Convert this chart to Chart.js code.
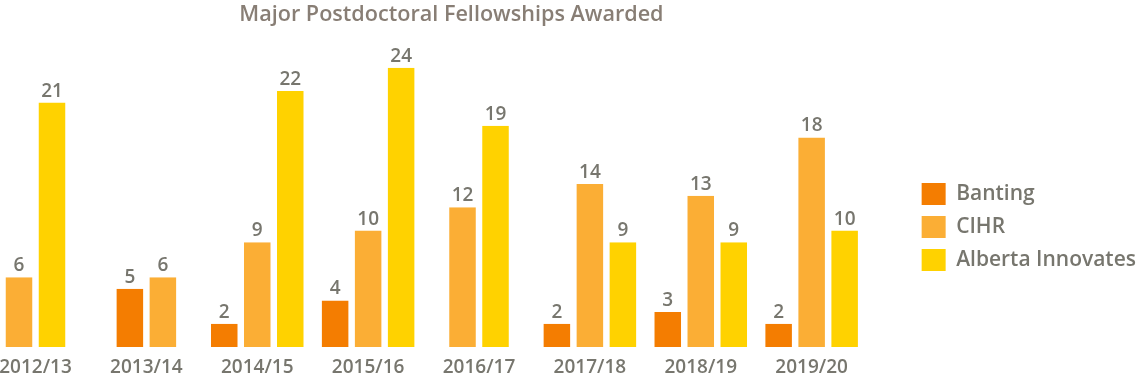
<!DOCTYPE html>
<html><head><meta charset="utf-8">
<script src="https://cdn.jsdelivr.net/npm/chart.js@4.4.1/dist/chart.umd.min.js"></script>
<style>html,body{margin:0;padding:0;background:#fff;overflow:hidden;}#wrap{width:1140px;height:378px;}</style>
</head><body><div id="wrap"><canvas id="c" width="1140" height="378"></canvas></div>
<script>
const categories = ['2012/13','2013/14','2014/15','2015/16','2016/17','2017/18','2018/19','2019/20'];
const banting = [null, 5, 2, 4, null, 2, 3, 2];
const cihr = [6, 6, 9, 10, 12, 14, 13, 18];
const albertaInnovates = [21, null, 22, 24, 19, 9, 9, 10];
const seriesNames = ['Banting', 'CIHR', 'Alberta Innovates'];
const titleText = 'Major Postdoctoral Fellowships Awarded';

const FONT = '"Open Sans", "Noto Sans", sans-serif';
const TEXT_GRAY = '#77766e';
const TITLE_GRAY = '#887e75';
const colors = ['#F47D01', '#FBAE35', '#FFD200'];

const barStyle = {
  barThickness: 33,
  borderWidth: {left: 3.25, right: 3.25, top: 0, bottom: 0},
  borderColor: 'rgba(255,255,255,0)',
  borderSkipped: false,
  inflateAmount: 0,
  skipNull: true,
  clip: false
};

const valueLabels = {
  id: 'valueLabels',
  afterDatasetsDraw(chart) {
    const ctx = chart.ctx;
    ctx.save();
    ctx.font = '600 19px ' + FONT;
    ctx.fillStyle = TEXT_GRAY;
    ctx.textAlign = 'center';
    ctx.textBaseline = 'alphabetic';
    chart.data.datasets.forEach((ds, i) => {
      const meta = chart.getDatasetMeta(i);
      meta.data.forEach((el, j) => {
        const v = ds.data[j];
        if (v === null || v === undefined) return;
        ctx.fillText(String(v), el.x, el.y - 6);
      });
    });
    ctx.restore();
  }
};

const titleDraw = {
  id: 'titleDraw',
  afterDraw(chart) {
    const ctx = chart.ctx;
    ctx.save();
    ctx.font = '600 21.6px ' + FONT;
    ctx.fillStyle = TITLE_GRAY;
    ctx.textAlign = 'center';
    ctx.textBaseline = 'middle';
    ctx.fillText(titleText, chart.width * 0.396, 15);
    ctx.restore();
  }
};

new Chart(document.getElementById('c'), {
  type: 'bar',
  data: {
    labels: categories,
    datasets: [
      Object.assign({label: seriesNames[0], data: banting, backgroundColor: colors[0]}, barStyle),
      Object.assign({label: seriesNames[1], data: cihr, backgroundColor: colors[1]}, barStyle),
      Object.assign({label: seriesNames[2], data: albertaInnovates, backgroundColor: colors[2]}, barStyle)
    ]
  },
  options: {
    responsive: false,
    devicePixelRatio: 1,
    animation: false,
    layout: {padding: {left: 0, top: 56, right: -6, bottom: 0}},
    plugins: {
      title: {display: false},
      tooltip: {enabled: false},
      legend: {
        position: 'right',
        title: {display: true, text: '', padding: 0, font: {size: 10, lineHeight: 2.0}},
        labels: {
          boxWidth: 24, boxHeight: 22, padding: 11,
          color: TEXT_GRAY,
          font: {family: FONT, size: 21, weight: '600'}
        }
      }
    },
    scales: {
      x: {
        offset: false,
        grid: {display: false, drawTicks: false},
        border: {display: false},
        ticks: {color: TEXT_GRAY, font: {family: FONT, size: 19, weight: '600'}, padding: 9, maxRotation: 0, autoSkip: false},
        afterFit(s) { s.height = 31; s.paddingLeft = 35.5; }
      },
      y: {
        position: 'right',
        min: 0, max: 25,
        grid: {display: false, drawTicks: false},
        border: {display: false},
        ticks: {display: false},
        afterFit(s) { s.width = 99; }
      }
    }
  },
  plugins: [valueLabels, titleDraw]
});
</script>
</body></html>
